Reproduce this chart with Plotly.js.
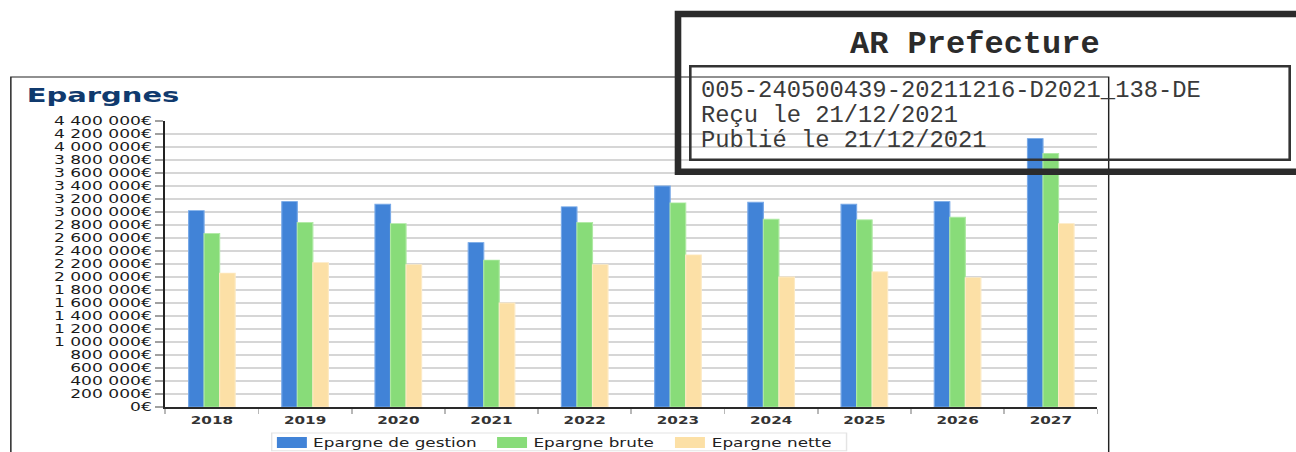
<!DOCTYPE html>
<html>
<head>
<meta charset="utf-8">
<script src="https://cdn.plot.ly/plotly-3.0.1.min.js"></script>
<style>
  html, body { margin: 0; padding: 0; background: #ffffff; }
  #wrap { position: relative; width: 1296px; height: 452px; overflow: hidden; }
  #chart { position: absolute; left: 0; top: 0; transform-origin: 0 0; }
  #stamp { position: absolute; left: 0; top: 0; width: 1296px; height: 452px; pointer-events: none; }
</style>
</head>
<body>
<div id="wrap">
  <div id="chart"></div>
  <div id="stamp"></div>
</div>
<script>
// ---- data ----
const years = ['2018', '2019', '2020', '2021', '2022', '2023', '2024', '2025', '2026', '2027'];
const seriesNames = ['Epargne de gestion', 'Epargne brute', 'Epargne nette'];
const epargneGestion = [3020000, 3160000, 3120000, 2530000, 3080000, 3400000, 3150000, 3120000, 3160000, 4130000];
const epargneBrute   = [2670000, 2840000, 2820000, 2260000, 2840000, 3140000, 2890000, 2880000, 2920000, 3900000];
const epargneNette   = [2060000, 2220000, 2190000, 1600000, 2190000, 2340000, 2000000, 2080000, 1990000, 2820000];
const stampTitle = 'AR Prefecture';
const stampLines = ['005-240500439-20211216-D2021_138-DE', 'Reçu le 21/12/2021', 'Publié le 21/12/2021'];

// ---- chart frame: drawn narrow, then widened horizontally ----
const PAGE_W = 1296, PAGE_H = 452;
const W = 894;                 // drawing width before horizontal stretch
const S = PAGE_W / W;          // horizontal stretch factor
const plotLeftPx = 165, plotRightPx = 1097.7;   // on the page
const plotTopPx = 120.7, plotBottomPx = 406.7;
const L = plotLeftPx / S, R = plotRightPx / S;
const fx = px => (px / S - L) / (R - L);
const fy = py => (plotBottomPx - py) / (plotBottomPx - plotTopPx);

const colors = ['#4183d7', '#88dc79', '#fce0a6'];
const edges  = ['#78a9e8', '#aee9a3', '#fdeac4'];
const values = [epargneGestion, epargneBrute, epargneNette];

const traces = seriesNames.map((name, i) => ({
  type: 'bar',
  name: name,
  x: years,
  y: values[i],
  marker: { color: colors[i], line: { color: edges[i], width: 0.8 } },
  hoverinfo: 'skip'
}));

// legend row under the axis: box, colour keys and names
const legendBox = { x0: 271.5, x1: 846.7, y0: 432.7, y1: 450.5 };
const legendKeyX = [276.7, 497, 675];     // left edge of each colour key
const legendKeyW = 30, legendKeyTop = 436.7, legendKeyBottom = 447.7;
const legendTextGap = 5;

const shapes = [
  {
    type: 'rect', xref: 'paper', yref: 'paper',
    x0: fx(10.5), x1: fx(1109), y0: fy(76.7), y1: fy(480),
    line: { color: '#222222', width: 1 },
    fillcolor: 'rgba(0,0,0,0)'
  },
  {
    type: 'rect', xref: 'paper', yref: 'paper',
    x0: fx(legendBox.x0), x1: fx(legendBox.x1), y0: fy(legendBox.y0), y1: fy(legendBox.y1),
    line: { color: '#e4e4e4', width: 1 },
    fillcolor: '#ffffff'
  }
].concat(seriesNames.map((n, i) => ({
  type: 'rect', xref: 'paper', yref: 'paper',
  x0: fx(legendKeyX[i]), x1: fx(legendKeyX[i] + legendKeyW),
  y0: fy(legendKeyTop), y1: fy(legendKeyBottom),
  line: { width: 0 }, fillcolor: colors[i]
})));

const annotations = seriesNames.map((n, i) => ({
  xref: 'paper', yref: 'paper',
  x: fx(legendKeyX[i] + legendKeyW + legendTextGap), xanchor: 'left',
  y: fy((legendKeyTop + legendKeyBottom) / 2), yanchor: 'middle',
  text: n, showarrow: false, borderpad: 0,
  font: { family: 'DejaVu Sans', size: 11.6, color: '#222222' }
}));

const layout = {
  width: W,
  height: PAGE_H,
  margin: { l: L, r: W - R, t: plotTopPx, b: PAGE_H - plotBottomPx, pad: 0, autoexpand: false },
  paper_bgcolor: '#ffffff',
  plot_bgcolor: '#ffffff',
  separators: ', ',
  barmode: 'group',
  bargap: 0.5,
  bargroupgap: 0,
  showlegend: false,
  title: {
    text: 'Epargnes',
    xref: 'container', x: 26.7 / PAGE_W, xanchor: 'left',
    yref: 'container', y: 1 - 95.5 / PAGE_H, yanchor: 'middle',
    font: { family: 'DejaVu Sans', size: 20, weight: 'bold', color: '#103a6e' }
  },
  xaxis: {
    type: 'category',
    tickson: 'boundaries',
    ticks: 'outside', ticklen: 5, tickwidth: 1.2, tickcolor: '#b8b8b8',
    ticklabelstandoff: 3,
    showline: true, linecolor: '#2a2a2a', linewidth: 1.5,
    showgrid: false, zeroline: false,
    tickfont: { family: 'DejaVu Sans', size: 10.5, weight: 'bold', color: '#333333' },
    fixedrange: true
  },
  yaxis: {
    range: [0, 4400000],
    tick0: 0, dtick: 200000,
    tickformat: ',.0f', ticksuffix: '€',
    ticks: 'outside', ticklen: 5.5, tickwidth: 1.5, tickcolor: '#a0a0a0',
    showline: true, linecolor: '#222222', linewidth: 1.4,
    showgrid: true, gridcolor: '#d6d6d6', gridwidth: 1.8,
    zeroline: false,
    tickfont: { family: 'DejaVu Sans', size: 11.8, color: '#1a1a1a' },
    fixedrange: true
  },
  shapes: shapes,
  annotations: annotations
};

const chartDiv = document.getElementById('chart');
chartDiv.style.transform = 'scaleX(' + S + ')';
Plotly.newPlot(chartDiv, traces, layout, { staticPlot: true, displayModeBar: false, responsive: false });

// ---- reception stamp laid over the chart ----
const stampLayout = {
  width: PAGE_W,
  height: PAGE_H,
  margin: { l: 0, r: 0, t: 0, b: 0, pad: 0 },
  paper_bgcolor: 'rgba(0,0,0,0)',
  plot_bgcolor: 'rgba(0,0,0,0)',
  showlegend: false,
  xaxis: { range: [0, PAGE_W], visible: false, fixedrange: true },
  yaxis: { range: [PAGE_H, 0], visible: false, fixedrange: true },
  shapes: [
    { type: 'rect', xref: 'x', yref: 'y', x0: 678, x1: 1320, y0: 14, y1: 171.7,
      line: { color: '#2b2b2b', width: 6.6 }, fillcolor: 'rgba(0,0,0,0)' },
    { type: 'rect', xref: 'x', yref: 'y', x0: 690.3, x1: 1289.7, y0: 66.3, y1: 159.7,
      line: { color: '#333333', width: 2.6 }, fillcolor: 'rgba(0,0,0,0)' }
  ],
  annotations: [
    { x: 974.7, y: 44.5, xref: 'x', yref: 'y', xanchor: 'center', yanchor: 'middle',
      text: stampTitle, showarrow: false,
      font: { family: 'Liberation Mono', size: 32, weight: 'bold', color: '#2b2b2b' } }
  ].concat(stampLines.map((t, i) => ({
    x: 699, y: 90 + i * 25, xref: 'x', yref: 'y', xanchor: 'left', yanchor: 'middle',
    text: t, showarrow: false,
    font: { family: 'Liberation Mono', size: 23.8, color: '#3a3a3a' }
  })))
};
Plotly.newPlot('stamp', [], stampLayout, { staticPlot: true, displayModeBar: false, responsive: false });
</script>
</body>
</html>
